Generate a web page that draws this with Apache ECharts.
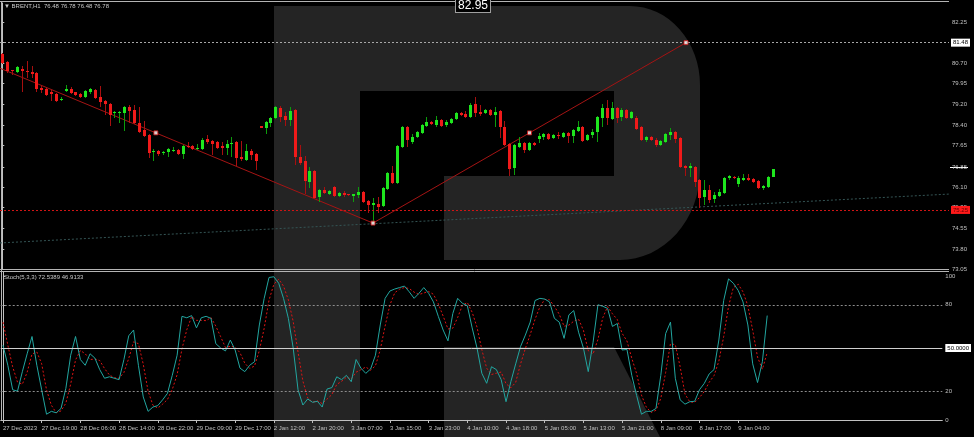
<!DOCTYPE html>
<html><head><meta charset="utf-8">
<script src="https://cdn.jsdelivr.net/npm/echarts@6/dist/echarts.min.js"></script>
<style>html,body{margin:0;padding:0;background:#000;}#c{width:974px;height:437px;}</style>
</head><body><div id="c"></div>
<script>
// ---- data (BRENT H1) ----
const opens = [
81.05,80.76,80.46,80.39,80.50,80.41,80.37,80.35,79.78,79.75,
79.64,79.57,79.33,79.69,79.75,79.64,79.57,79.46,79.64,79.72,
79.46,79.31,79.20,78.86,78.86,78.86,79.08,78.97,78.49,78.23,
78.04,77.41,77.45,77.37,77.41,77.45,77.48,77.33,77.63,77.63,
77.52,77.52,77.89,77.82,77.78,77.63,77.56,77.71,77.78,77.22,
77.11,77.45,77.33,78.36,78.30,78.49,78.67,79.05,78.75,78.60,
78.97,77.22,77.07,76.29,76.70,75.73,75.99,75.84,76.10,75.77,
75.88,75.84,75.77,75.81,75.92,75.58,75.45,75.47,75.40,76.03,
76.63,76.25,77.59,78.34,77.78,77.97,78.12,78.38,78.53,78.41,
78.60,78.41,78.49,78.64,78.86,78.82,78.71,79.20,78.90,78.86,
78.97,78.79,78.93,78.34,77.71,76.81,77.59,77.74,77.48,77.74,
77.89,77.97,78.08,77.93,78.04,77.97,78.12,78.00,78.19,78.34,
77.86,78.04,78.15,78.67,79.05,78.64,79.05,78.71,78.97,78.67,
78.67,78.34,77.86,77.97,77.86,77.67,77.78,78.04,78.15,77.93,
76.89,76.81,76.85,76.37,75.73,75.99,75.66,75.77,75.88,76.44,
76.48,76.20,76.37,76.44,76.40,76.33,76.07,76.10,76.48];
const closes = [
80.72,80.43,80.42,80.56,80.43,80.37,80.33,79.75,79.72,79.53,
79.57,79.31,79.40,79.77,79.61,79.53,79.46,79.68,79.75,79.42,
79.27,79.20,78.79,78.90,78.90,79.08,78.93,78.49,78.15,78.00,
77.37,77.45,77.33,77.41,77.52,77.48,77.33,77.63,77.59,77.52,
77.56,77.86,77.78,77.71,77.56,77.56,77.71,77.74,77.18,77.15,
77.45,77.30,77.07,78.32,78.53,78.67,79.08,78.71,78.60,78.93,
77.22,77.00,76.33,76.70,75.70,75.99,75.88,75.96,75.77,75.88,
75.81,75.81,75.84,75.92,75.55,75.45,75.49,75.36,76.07,76.63,
76.25,77.63,78.34,77.86,77.97,78.15,78.41,78.53,78.45,78.60,
78.38,78.53,78.64,78.86,78.79,78.71,79.16,78.86,78.82,78.97,
78.79,78.90,78.34,77.67,76.78,77.67,77.74,77.48,77.74,77.67,
78.00,78.08,77.89,78.04,78.00,78.12,78.00,78.23,78.34,77.82,
78.04,78.15,78.71,79.05,78.67,79.05,78.67,78.97,78.67,78.90,
78.26,77.86,77.97,77.86,77.67,77.82,78.08,78.15,77.89,76.85,
76.81,76.89,76.29,75.70,75.99,75.62,75.81,75.92,76.44,76.51,
76.44,76.44,76.44,76.37,76.29,76.07,76.14,76.48,76.78];
const lows = [
80.68,80.35,80.26,80.35,79.64,80.17,80.17,79.64,79.60,79.50,
79.31,79.27,79.29,79.64,79.57,79.50,79.42,79.42,79.57,79.38,
79.08,78.79,78.38,78.67,78.49,78.19,78.49,78.45,78.10,77.97,
77.18,77.07,77.26,77.30,77.22,77.40,77.30,77.15,77.56,77.48,
77.50,77.48,77.71,77.30,77.52,77.30,77.30,77.22,76.89,77.07,
77.07,77.11,76.74,78.30,78.08,78.34,78.64,78.53,78.38,78.38,
76.92,76.92,75.84,76.07,75.66,75.55,75.84,75.81,75.73,75.73,
75.73,75.77,75.55,75.70,75.51,75.14,74.76,75.14,75.36,75.99,
76.20,76.20,77.56,77.59,77.71,77.93,78.08,78.34,78.41,78.34,
78.34,78.34,78.45,78.60,78.75,78.67,78.67,78.71,78.75,78.82,
78.75,78.34,77.93,77.63,76.51,76.55,77.56,77.37,77.45,77.63,
77.74,77.86,77.86,77.89,77.89,77.93,77.74,77.74,78.15,77.78,
77.82,77.93,77.78,78.34,78.41,78.60,78.49,78.56,78.64,78.64,
78.23,77.82,77.78,77.82,77.59,77.63,77.74,77.86,77.74,76.81,
76.51,76.48,76.10,75.32,75.45,75.51,75.51,75.73,75.84,76.37,
76.40,76.10,76.33,76.33,76.25,76.03,75.99,76.07,76.48];
const highs = [
81.10,80.80,80.48,80.62,80.60,80.80,80.61,80.40,79.90,79.80,
79.72,79.60,79.45,79.90,79.83,79.66,79.60,79.72,79.78,79.75,
79.87,79.35,79.24,78.93,78.93,79.12,79.16,79.16,79.08,78.56,
78.08,77.52,77.47,77.45,77.56,77.58,77.52,77.66,77.78,77.66,
77.71,77.93,78.04,77.86,77.82,77.78,77.86,77.97,77.82,77.82,
77.71,77.52,77.37,78.38,78.56,78.71,79.12,79.12,78.90,79.08,
79.01,77.67,77.26,76.85,76.74,76.03,76.10,75.99,76.14,75.92,
75.96,75.86,75.86,76.10,75.96,75.62,75.70,75.73,76.10,76.66,
76.89,77.67,78.38,78.38,78.08,78.19,78.45,78.71,78.56,78.75,
78.64,78.60,78.67,78.90,78.90,78.93,79.24,79.46,79.16,79.01,
79.01,79.08,78.97,78.56,77.74,77.71,77.97,77.78,77.78,77.78,
78.12,78.12,78.12,78.08,78.15,78.15,78.15,78.26,78.56,78.38,
78.08,78.26,78.75,79.20,79.35,79.27,79.08,79.05,79.01,78.93,
78.75,78.38,78.00,78.00,77.93,77.86,78.12,78.30,78.19,77.97,
76.92,77.00,76.89,76.40,76.37,76.18,75.92,76.03,76.48,76.55,
76.51,76.51,76.59,76.59,76.44,76.37,76.18,76.51,76.78];
const stochK = [
52,38,21,20,33.5,46,58,38,21,4,
6,5,8,22,45,58,42,38,46,43,
35,29,30,29,28,42,58.5,62.5,38,16,
6,9,10,14,18.5,31,45,72,71,72.5,
64,71,72,70.6,53,50,48,55.5,48.6,36,
33.6,38,40.5,66,84.5,99,99.5,95,84.5,70.6,
50,21,10.4,14.6,12.3,13,9,21.5,22.5,30,
28,31,26.6,42,36,32.4,35.4,45,66,84.5,
89.6,91,92,93,89,84.5,88,92,88,82,
72,62.5,55,74,84.5,81,79.4,64,50,32.4,
25.5,37,35,28,12.7,26.6,39,51,59,68,
83,84.5,84,82,70.6,68,56.7,73,76,61,
50,33.6,54,80,79,77.5,65,67,48.6,49,
31,17,4,6,6,8,31,60,68,29,
14,11,12.7,13,21,25.5,32,35,55.6,83,
98,95,90,82,66,39,26,40.5,72.54];
const stochD = [
68,52,37,26.3,24.8,33.2,45.8,47.3,39,21,
10.3,5,6.3,11.7,25,41.7,48.3,46,42,42.3,
41.3,35.7,31.3,29.3,29,33,42.8,54.3,53,38.8,
20,10.3,8.3,11,14.2,21.2,31.5,49.3,62.7,71.8,
69.2,69.2,69,71.2,65.2,57.9,50.3,51.2,50.7,46.7,
39.4,35.9,37.4,48.2,63.7,83.2,94.3,97.8,93,83.4,
68.4,47.2,27.1,15.3,12.4,13.3,11.4,14.5,17.7,24.7,
26.8,29.7,28.5,33.2,34.9,36.8,34.6,37.6,48.8,65.2,
80,88.4,90.9,92,91.3,88.8,87.2,88.2,89.3,87.3,
80.7,72.2,63.2,63.8,71.2,79.8,81.6,74.8,64.5,48.8,
36,31.6,32.5,33.3,25.2,22.4,26.1,38.9,49.7,59.3,
70,78.5,83.8,83.5,78.9,73.5,65.1,65.9,68.6,70,
62.3,48.2,45.9,55.9,71,78.8,73.8,69.8,60.2,54.9,
42.9,32.3,17.3,9,5.3,6.7,15,33,53,52.3,
37,18,12.6,12.2,15.6,19.8,26.2,30.8,40.9,57.9,
78.9,92,94.3,89,79.3,62.3,43.7,35.2,46.91];
const timeLabels = ['27 Dec 2023','27 Dec 19:00','28 Dec 06:00','28 Dec 14:00','28 Dec 22:00','29 Dec 09:00',
  '29 Dec 17:00','2 Jan 12:00','2 Jan 20:00','3 Jan 07:00','3 Jan 15:00','3 Jan 23:00','4 Jan 10:00',
  '4 Jan 18:00','5 Jan 05:00','5 Jan 13:00','5 Jan 21:00','8 Jan 09:00','8 Jan 17:00','9 Jan 04:00'];
const BARS_PER_LABEL = 8;
const priceTickLabels = ['73.05','73.80','74.55','75.35','76.10','76.85','77.65','78.40','79.20','79.95','80.70','81.48','82.25'];
const stochTickLabels = [0, 20, 50, 80, 100];
const trendX = [-13.1, 76.05, 140.25];
const trendY = [81.48, 74.76, 81.48];
const markerX = [31.5, 76.05, 108.15, 140.25];
const markerY = [78.12, 74.76, 78.12, 81.48];
const slopeX = [-0.47, 194.2];
const slopeY = [74.02, 75.84];
const levelHigh = 81.48, levelLow = 75.25;

// ---- chart ----
const X_MIN = -0.47, X_MAX = 194.2;
const FONT = 'Liberation Sans';
const AX = '#c0c0c0';
const priceTicks = priceTickLabels.map(Number);
const timeTickPos = timeLabels.map((_, k) => k * BARS_PER_LABEL);
const candles = opens.map((o, i) => [i, o, closes[i], lows[i], highs[i]]);

function ell(cx, cy, rx, ry, a0, a1, n) {
  const pts = [];
  for (let k = 0; k <= n; k++) {
    const a = (a0 + (a1 - a0) * k / n) * Math.PI / 180;
    pts.push([cx + rx * Math.cos(a), cy + ry * Math.sin(a)]);
  }
  return pts;
}
const LOGO = '#242424';
const bowl = [[360, 6]].concat(ell(630, 85, 70, 79, -90, 0, 16), ell(620, 170, 80, 90, 0, 90, 16),
  [[444, 260], [444, 176], [614, 176], [614, 91], [360, 91]]);

const chart = echarts.init(document.getElementById('c'));
chart.setOption({
  backgroundColor: '#000',
  animation: false,
  grid: [
    {left: 0, right: 25, top: 3, height: 266},
    {left: 0, right: 25, top: 272, height: 149}
  ],
  xAxis: [
    {type: 'value', gridIndex: 0, min: X_MIN, max: X_MAX, show: false},
    {type: 'value', gridIndex: 1, min: X_MIN, max: X_MAX,
      axisLine: {show: true, lineStyle: {color: AX}},
      axisTick: {show: true, customValues: timeTickPos, length: 3, lineStyle: {color: AX}},
      axisLabel: {customValues: timeTickPos, formatter: v => timeLabels[Math.round(v / BARS_PER_LABEL)] || '',
        align: 'left', color: AX, fontSize: 6, fontFamily: FONT, margin: 4},
      splitLine: {show: false}}
  ],
  yAxis: [
    {type: 'value', gridIndex: 0, position: 'right', min: 73.05, max: 82.957,
      axisLine: {show: true, lineStyle: {color: AX}},
      axisTick: {show: true, customValues: priceTicks, length: 2, lineStyle: {color: AX}},
      axisLabel: {customValues: priceTicks, formatter: v => v.toFixed(2), color: AX, fontSize: 6, fontFamily: FONT, margin: 3},
      splitLine: {show: false}},
    {type: 'value', gridIndex: 1, position: 'right', min: -0.7, max: 102.8,
      axisLine: {show: true, lineStyle: {color: AX}},
      axisTick: {show: true, customValues: stochTickLabels, length: 2, lineStyle: {color: AX}},
      axisLabel: {customValues: stochTickLabels, color: AX, fontSize: 6, fontFamily: FONT, margin: 3,
        formatter: v => v === 50 ? '{b|50.0000}' : String(v),
        rich: {b: {backgroundColor: '#fff', color: '#000', fontSize: 6, fontFamily: FONT, padding: [1, 2]}}},
      splitLine: {show: false}}
  ],
  series: [
    {type: 'line', xAxisIndex: 0, yAxisIndex: 0, data: slopeX.map((x, i) => [x, slopeY[i]]),
      showSymbol: false, silent: true, lineStyle: {color: '#345454', width: 1, type: [2, 2]}, z: 1},
    {type: 'line', xAxisIndex: 0, yAxisIndex: 0, data: trendX.map((x, i) => [x, trendY[i]]),
      showSymbol: false, silent: true, clip: true, lineStyle: {color: '#a51414', width: 1}, z: 3,
      markLine: {symbol: 'none', silent: true, animation: false, data: [
        {yAxis: levelHigh, lineStyle: {color: '#a8a8a8', type: [2, 2], width: 1},
          label: {position: 'end', distance: 2, formatter: levelHigh.toFixed(2), color: '#000', backgroundColor: '#fff',
            fontSize: 6, fontFamily: FONT, padding: [1, 2]}},
        {yAxis: levelLow, lineStyle: {color: '#d01414', type: [2, 2], width: 1},
          label: {position: 'end', distance: 2, formatter: levelLow.toFixed(2), color: '#600000', backgroundColor: '#ff1a1a',
            fontSize: 6, fontFamily: FONT, padding: [1, 2]}}
      ]}},
    {type: 'custom', xAxisIndex: 0, yAxisIndex: 0, data: candles, encode: {x: 0, y: [1, 2, 3, 4]}, z: 4,
      renderItem: function (params, api) {
        const x = api.value(0), o = api.value(1), c = api.value(2), l = api.value(3), h = api.value(4);
        const pO = api.coord([x, o]), pC = api.coord([x, c]), pL = api.coord([x, l]), pH = api.coord([x, h]);
        const up = c >= o;
        const cx = Math.round(pO[0]) + 0.5;
        const top = Math.round(Math.min(pO[1], pC[1])), bot = Math.round(Math.max(pO[1], pC[1]));
        return {type: 'group', children: [
          {type: 'line', shape: {x1: cx, y1: Math.round(pH[1]), x2: cx, y2: Math.round(pL[1])},
            style: {stroke: up ? '#0c9c0c' : '#a80f0f', lineWidth: 1}},
          {type: 'rect', shape: {x: cx - 1.5, y: top, width: 3, height: Math.max(1, bot - top)},
            style: {fill: up ? '#1ee61e' : '#f01a1a'}}
        ]};
      }},
    {type: 'scatter', xAxisIndex: 0, yAxisIndex: 0, data: markerX.map((x, i) => [x, markerY[i]]),
      symbol: 'rect', symbolSize: 4, silent: true, z: 5,
      itemStyle: {color: '#fff', borderColor: '#d01414', borderWidth: 1}},
    {type: 'line', xAxisIndex: 1, yAxisIndex: 1, data: stochK.map((v, i) => [i, v]),
      showSymbol: false, silent: true, lineStyle: {color: '#22a6a0', width: 1}, z: 4,
      markLine: {symbol: 'none', silent: true, animation: false, label: {show: false}, data: [
        {yAxis: 80, lineStyle: {color: '#8c8c8c', type: [2, 2], width: 1}},
        {yAxis: 20, lineStyle: {color: '#8c8c8c', type: [2, 2], width: 1}},
        {yAxis: 50, lineStyle: {color: '#d0d0d0', type: 'solid', width: 1}}
      ]}},
    {type: 'line', xAxisIndex: 1, yAxisIndex: 1, data: stochD.map((v, i) => [i, v]),
      showSymbol: false, silent: true, lineStyle: {color: '#e01414', width: 1, type: [2, 2]}, z: 3}
  ],
  graphic: [
    {type: 'rect', shape: {x: 274, y: 6, width: 86, height: 431}, style: {fill: LOGO}, z: -10, silent: true},
    {type: 'polygon', shape: {points: bowl}, style: {fill: LOGO}, z: -10, silent: true},
    {type: 'polygon', shape: {points: [[444, 347], [614, 347], [660, 437], [444, 437]]}, style: {fill: LOGO}, z: -10, silent: true},
    {type: 'line', shape: {x1: 0, y1: 1.5, x2: 949, y2: 1.5}, style: {stroke: '#b4b4b4', lineWidth: 1}, silent: true},
    {type: 'line', shape: {x1: 1.5, y1: 1.5, x2: 1.5, y2: 421}, style: {stroke: '#b4b4b4', lineWidth: 1}, silent: true},
    {type: 'line', shape: {x1: 0, y1: 269.5, x2: 949, y2: 269.5}, style: {stroke: '#b4b4b4', lineWidth: 1}, silent: true},
    {type: 'line', shape: {x1: 0, y1: 271.5, x2: 949, y2: 271.5}, style: {stroke: '#b4b4b4', lineWidth: 1}, silent: true},
    {type: 'line', shape: {x1: 950, y1: 167.5, x2: 968, y2: 167.5}, style: {stroke: '#ffffff', lineWidth: 1}, silent: true},
    {type: 'text', style: {text: '\u25BC BRENT,H1  76.48 76.78 76.48 76.78', x: 4, y: 3, fill: '#c8c8c8', font: '6px "Liberation Sans"'}, silent: true},
    {type: 'text', style: {text: 'Stoch(5,3,3) 72.5389 46.9133', x: 4, y: 274, fill: '#c8c8c8', font: '6px "Liberation Sans"'}, silent: true},
    {type: 'text', style: {text: '82.95', x: 473, y: 0, align: 'center', fill: '#fff', font: '12px "Liberation Sans"',
      backgroundColor: '#000', borderColor: '#a0a0a0', borderWidth: 1, padding: [0, 2]}, z: 10, silent: true}
  ]
});
</script></body></html>
